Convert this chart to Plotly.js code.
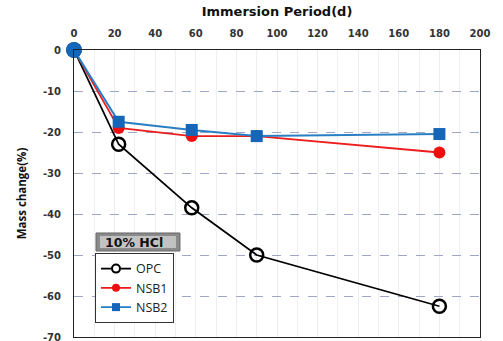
<!DOCTYPE html>
<html><head><meta charset="utf-8">
<script src="https://cdn.plot.ly/plotly-3.0.1.min.js"></script>
<style>body{margin:0;background:#fff}#c{width:503px;height:341px}</style>
</head><body><div id="c"></div>
<script>
const days = [0, 22, 58, 90, 180];
const opc  = [0, -23, -38.5, -50, -62.5];
const nsb1 = [0, -19, -21, -21, -25];
const nsb2 = [0, -17.5, -19.5, -21, -20.5];
const xTicks = [0,20,40,60,80,100,120,140,160,180,200];
const yTicks = [0,-10,-20,-30,-40,-50,-60,-70];

const tickFont = {family:'DejaVu Sans, sans-serif', size:10, color:'#333', weight:'bold'};
const traces = [
  {x:days, y:opc, name:'OPC', mode:'lines+markers', showlegend:false, cliponaxis:false,
   line:{color:'#000', width:1.8}, marker:{symbol:'circle', size:13, color:'rgba(255,255,255,0)', line:{color:'#000', width:2.5}}},
  {x:days, y:nsb1, name:'NSB1', mode:'lines+markers', showlegend:false, cliponaxis:false,
   line:{color:'#ee1c1c', width:1.8}, marker:{symbol:'circle', size:12, color:'#ee1010'}},
  {x:days, y:nsb2, name:'NSB2', mode:'lines+markers', showlegend:false, cliponaxis:false,
   line:{color:'#2a7fc4', width:2}, marker:{symbol:'square', size:12, color:'#1565b8'}},
  {x:[days[0]], y:[nsb2[0]], mode:'markers', showlegend:false, hoverinfo:'skip', cliponaxis:false,
   marker:{symbol:'circle', size:16, color:'#1565b8'}},
  {x:[null], y:[null], name:'OPC', mode:'lines+markers', line:{color:'#000', width:1.8}, marker:{symbol:'circle', size:8, color:'#fff', line:{color:'#000', width:2}}},
  {x:[null], y:[null], name:'NSB1', mode:'lines+markers', line:{color:'#ee1c1c', width:1.8}, marker:{symbol:'circle', size:8, color:'#ee1010'}},
  {x:[null], y:[null], name:'NSB2', mode:'lines+markers', line:{color:'#2a7fc4', width:1.8}, marker:{symbol:'square', size:8, color:'#1565b8'}}
];
const layout = {
  width:503, height:341,
  margin:{l:74, r:23, t:50, b:4},
  paper_bgcolor:'#fff', plot_bgcolor:'#fff',
  showlegend:true,
  font:{family:'Open Sans, sans-serif'},
  xaxis:{side:'top', range:[0,200], tickvals:xTicks, ticktext:xTicks.map(String), ticks:'',
    automargin:false, ticklabelstandoff:8, ticklabeloverflow:'allow',
    showgrid:true, gridcolor:'#ececf2', gridwidth:1,
    minor:{dtick:10, showgrid:true, gridcolor:'#f0f0f4'},
    showline:true, linecolor:'#222', linewidth:1, mirror:true, zeroline:false,
    tickfont:tickFont,
    title:{text:'Immersion Period(d)', font:{family:'DejaVu Sans, sans-serif', size:13, color:'#111', weight:'bold'}, standoff:8}},
  yaxis:{range:[-70,0], tickvals:yTicks, ticktext:yTicks.map(String), ticks:'',
    automargin:false, ticklabelstandoff:10, ticklabeloverflow:'allow',
    showgrid:true, gridcolor:'#a0a6c6', griddash:'dash', gridwidth:1,
    showline:true, linecolor:'#222', linewidth:1, mirror:true, zeroline:false,
    tickfont:tickFont,
    title:{text:'Mass change(%)', font:{family:'Open Sans, sans-serif', size:11.5, color:'#111', weight:'bold'}, standoff:13}},
  legend:{x:0.0517, y:0.2927, xanchor:'left', yanchor:'top', bgcolor:'#fff', bordercolor:'#333', borderwidth:1,
    font:{family:'Open Sans, sans-serif', size:12.5, color:'#222'}, tracegroupgap:0, itemwidth:30},
  shapes:[
    {type:'rect', xref:'paper', yref:'paper', x0:0.0542, x1:0.261, y0:0.2997, y1:0.3624,
     fillcolor:'#8a8a8a', line:{color:'#666', width:1}, layer:'above'},
    {type:'rect', xref:'paper', yref:'paper', x0:0.064, x1:0.2512, y0:0.310, y1:0.352,
     fillcolor:'#c2c2c2', line:{width:0}, layer:'above'}
  ],
  annotations:[{xref:'paper', yref:'paper', x:0.1478, y:0.331, xanchor:'center', yanchor:'middle',
    text:'<b>10% HCl</b>', showarrow:false,
    font:{family:'DejaVu Sans, sans-serif', size:12.5, color:'#111'}}]
};
Plotly.newPlot('c', traces, layout, {displayModeBar:false, staticPlot:true});
</script></body></html>
